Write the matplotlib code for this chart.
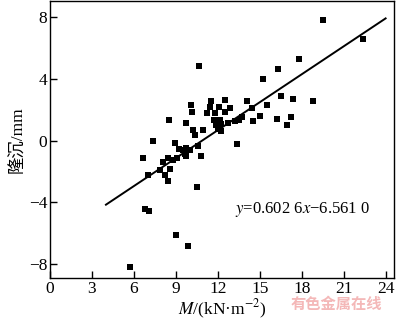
import numpy as np
import matplotlib.pyplot as plt

plt.rcParams['font.family'] = ['Liberation Serif', 'Noto Sans CJK SC']
plt.rcParams['mathtext.fontset'] = 'stix'

# 弯矩 M (kN·m^-2) 与隆沉 (mm) 观测点
moment = [5.7, 9.0, 9.9, 6.8, 7.1, 10.5, 7.0, 8.45, 8.2, 7.9, 8.55, 8.1, 6.65,
          8.45, 8.8, 9.05, 9.65, 9.75, 10.8, 9.2, 9.5, 9.75, 10.0, 10.55, 7.35,
          8.95, 13.4, 10.2, 10.35, 10.95, 8.5, 9.75, 10.1, 10.15, 10.65, 11.5,
          12.5, 11.45, 12.1, 12.85, 11.25, 11.8, 12.5, 11.7, 12.15, 11.9, 12.25,
          12.0, 12.2, 12.7, 13.2, 13.5, 13.7, 14.1, 14.45, 14.5, 15.05, 15.5,
          15.25, 16.3, 17.8, 16.5, 17.35, 18.8, 16.25, 17.25, 16.95, 19.5, 22.4]
heave = [-8.2, -6.1, -6.8, -4.4, -4.55, -3.0, -2.25, -2.6, -2.2, -1.9, -1.85,
         -1.4, -1.1, -1.1, -1.25, -1.1, -0.85, -1.0, -1.0, -0.55, -0.6, -0.5,
         -0.6, -0.35, -0.05, -0.15, -0.25, 0.65, 0.35, 0.7, 1.35, 1.15, 2.3,
         1.85, 4.85, 2.55, 2.65, 2.15, 2.15, 2.1, 1.75, 1.8, 1.85, 1.35, 1.35,
         1.0, 1.05, 0.75, 0.6, 1.15, 1.25, 1.35, 1.5, 2.55, 2.1, 1.25, 1.6,
         2.3, 4.0, 4.65, 5.25, 2.9, 2.7, 2.55, 1.4, 1.5, 1.0, 7.8, 6.55]

slope, intercept = 0.6026, -6.5610
fit_x = [4, 24]
x_ticks = [0, 3, 6, 9, 12, 15, 18, 21, 24]
y_ticks = [-8, -4, 0, 4, 8]

fig = plt.figure(figsize=(4.0, 3.23), dpi=100)
ax = fig.add_axes([0.125, 0.139, 0.86, 0.859])

ax.scatter(moment, heave, marker='s', s=22, color='black', linewidths=0, zorder=3)
fx = np.array(fit_x, dtype=float)
ax.plot(fx, slope * fx + intercept, color='black', lw=1.4, zorder=2)

ax.text(13.2, -4.45, r'$y$=0.602 6$x$−6.561 0', fontsize=12, va='center', ha='left')

ax.set_xlim(0, 24.6)
ax.set_ylim(-8.9, 9.05)
ax.set_xticks(x_ticks)
ax.set_yticks(y_ticks)
ax.tick_params(direction='in', length=5, width=1, labelsize=12.5, pad=2,
               top=False, right=False)
for s in ax.spines.values():
    s.set_linewidth(1.0)

ax.set_xlabel(r'$M$/(kN·m$^{-2}$)', fontsize=12.5, labelpad=1)
ax.set_ylabel('隆沉/mm', fontsize=12.5, labelpad=2)

# 页面水印
fig.text(0.84, 0.058, '有色金属在线', fontsize=11, color='#f4b8b8',
         family='Noto Sans CJK SC', weight='bold', ha='center', va='center')

fig.savefig('out.png', dpi=100)
